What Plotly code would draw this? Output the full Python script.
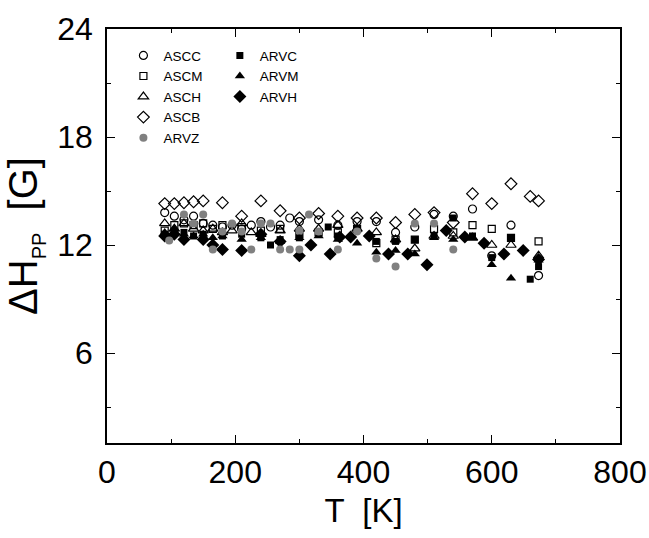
import plotly.graph_objects as go

# ---- data ----
ascc_T = [90, 105, 120, 135, 150, 165, 180, 195, 210, 225, 240, 255, 270, 285, 300, 330, 360, 390, 420, 450, 480, 510, 540, 570, 600, 630, 673]
ascc_y = [13.8, 13.6, 13.4, 13.6, 13.2, 13.1, 13.0, 13.1, 12.9, 13.1, 13.3, 13.0, 13.1, 13.5, 13.3, 13.4, 13.1, 13.3, 13.3, 12.7, 13.0, 13.7, 13.6, 14.0, 11.4, 13.1, 10.3]

ascm_T = [90, 105, 120, 135, 150, 165, 180, 210, 240, 270, 300, 330, 360, 390, 420, 450, 480, 510, 540, 570, 600, 630, 673]
ascm_y = [12.8, 13.1, 13.2, 13.1, 13.2, 12.9, 13.1, 13.0, 12.8, 12.9, 12.6, 12.7, 12.7, 12.9, 12.1, 12.3, 12.3, 12.9, 12.7, 13.1, 12.9, 12.4, 12.2]

asch_T = [90, 105, 120, 135, 150, 165, 180, 195, 210, 225, 240, 270, 300, 330, 360, 390, 420, 450, 480, 510, 540, 570, 600, 630, 673]
asch_y = [13.2, 12.9, 13.2, 12.9, 12.8, 12.9, 12.7, 12.8, 13.2, 12.7, 12.6, 12.8, 12.9, 12.9, 13.1, 12.9, 12.7, 12.3, 11.8, 12.5, 12.5, 12.4, 12.0, 12.0, 11.4]

ascb_T = [90, 105, 120, 135, 150, 180, 210, 240, 270, 300, 330, 360, 390, 420, 450, 480, 510, 540, 570, 600, 630, 660, 673]
ascb_y = [14.3, 14.3, 14.35, 14.4, 14.45, 14.35, 13.6, 14.45, 13.9, 13.5, 13.75, 13.6, 13.5, 13.5, 13.25, 13.7, 13.8, 13.25, 14.85, 14.3, 15.4, 14.7, 14.45]

arvz_T = [97, 120, 135, 150, 165, 180, 195, 210, 225, 240, 255, 270, 285, 300, 300, 315, 330, 360, 390, 420, 450, 480, 510, 540]
arvz_y = [12.25, 13.7, 13.2, 13.7, 11.75, 12.75, 13.2, 12.75, 11.75, 13.2, 13.2, 11.75, 11.75, 12.8, 11.75, 13.7, 12.75, 11.75, 12.75, 11.25, 10.8, 13.2, 13.2, 11.75]

arvc_T = [90, 105, 120, 135, 150, 180, 210, 240, 255, 270, 300, 345, 360, 390, 420, 450, 480, 510, 540, 570, 600, 630, 660, 673]
arvc_y = [12.6, 12.7, 12.7, 12.5, 12.6, 12.5, 12.6, 12.4, 12.0, 12.3, 12.4, 13.0, 12.5, 12.9, 12.2, 12.2, 12.3, 12.5, 13.5, 12.5, 11.3, 12.4, 10.1, 10.8]

arvm_T = [90, 105, 120, 135, 150, 165, 180, 210, 240, 270, 300, 330, 360, 390, 420, 450, 480, 510, 540, 570, 600, 630, 673]
arvm_y = [12.7, 12.9, 12.6, 12.5, 12.6, 12.4, 12.5, 12.3, 12.4, 12.2, 12.4, 12.5, 12.3, 12.1, 11.6, 11.7, 11.5, 12.4, 12.3, 12.4, 10.9, 10.15, 11.15]

arvh_T = [90, 105, 120, 150, 165, 180, 210, 240, 270, 300, 318, 348, 363, 380, 409, 439, 469, 499, 529, 558, 588, 619, 649, 673]
arvh_y = [12.5, 12.6, 12.3, 12.3, 12.0, 11.75, 11.7, 12.6, 12.2, 11.4, 12.0, 11.5, 12.45, 12.45, 12.5, 11.5, 11.5, 10.9, 12.8, 12.45, 12.1, 11.5, 11.7, 11.2]

x_ticks = [0, 200, 400, 600, 800]
y_ticks = [6, 12, 18, 24]

FONT = "Liberation Sans, Arial, sans-serif"
GRAY = "#808080"

fig = go.Figure()

def add(name, T, y, symbol, size, color, legend, lw=1.2):
    fig.add_trace(go.Scatter(
        x=T, y=y, mode="markers", name=name, legend=legend,
        marker=dict(symbol=symbol, size=size, color=color,
                    line=dict(color=color, width=lw)),
    ))

add("ASCC", ascc_T, ascc_y, "circle-open", 8, "black", "legend")
add("ASCM", ascm_T, ascm_y, "square-open", 7, "black", "legend")
add("ASCH", asch_T, asch_y, "triangle-up-open", 9, "black", "legend")
add("ASCB", ascb_T, ascb_y, "diamond-open", 9, "black", "legend")
add("ARVC", arvc_T, arvc_y, "square", 7, "black", "legend2", 0)
add("ARVM", arvm_T, arvm_y, "triangle-up", 9, "black", "legend2", 0)
add("ARVH", arvh_T, arvh_y, "diamond", 10, "black", "legend2", 0)
add("ARVZ", arvz_T, arvz_y, "circle", 8, GRAY, "legend", 0)

legend_common = dict(
    font=dict(family=FONT, size=13.5, color="black"),
    bgcolor="rgba(0,0,0,0)", borderwidth=0,
    yanchor="top", xanchor="left", tracegroupgap=0,
)

fig.update_layout(
    width=649, height=538,
    margin=dict(l=107, r=29, t=29, b=95, autoexpand=False),
    paper_bgcolor="white", plot_bgcolor="white",
    font=dict(family=FONT, color="black"),
    legend=dict(x=0.032, y=0.973, **legend_common),
    legend2=dict(x=0.22, y=0.973, **legend_common),
    xaxis=dict(
        range=[0, 800], tickvals=x_ticks, ticks="inside", ticklen=8,
        tickwidth=1.3, tickcolor="black", automargin=False,
        minor=dict(ticks="inside", ticklen=4, dtick=100, tick0=0, tickcolor="black", tickwidth=1.2),
        showline=True, linecolor="black", linewidth=1.5, mirror="ticks",
        showgrid=False, zeroline=False,
        tickfont=dict(family=FONT, size=32, color="black"),
        ticklabelstandoff=0,
        title=dict(text="T  [K]", font=dict(family=FONT, size=33, color="black"), standoff=10),
    ),
    yaxis=dict(
        range=[1, 24], tickvals=y_ticks, ticks="inside", ticklen=8,
        tickwidth=1.3, tickcolor="black", automargin=False,
        minor=dict(ticks="inside", ticklen=4, dtick=3, tick0=0, tickcolor="black", tickwidth=1.2),
        showline=True, linecolor="black", linewidth=1.5, mirror="ticks",
        showgrid=False, zeroline=False,
        tickfont=dict(family=FONT, size=32, color="black"),
        ticklabelstandoff=6,
        title=dict(text='ΔH<sub><span style="font-size:20px">PP</span></sub>  [G]',
                   font=dict(family=FONT, size=40, color="black"), standoff=7),
    ),
)

# remove the default page margin so the 649x538 figure fills the window exactly
fig.write_html("out.html", config={"displayModeBar": False},
               post_script="document.body.style.margin='0';document.body.style.overflow='hidden';")
